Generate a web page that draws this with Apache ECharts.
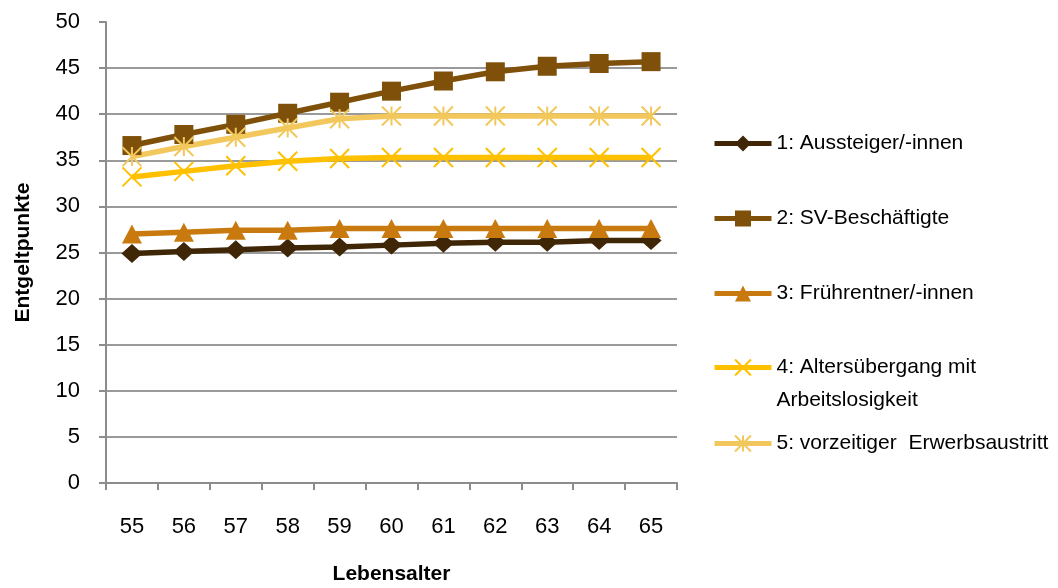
<!DOCTYPE html>
<html>
<head>
<meta charset="utf-8">
<script src="https://cdn.jsdelivr.net/npm/echarts@6/dist/echarts.min.js"></script>
<style>
  html, body { margin: 0; padding: 0; background: #fff; }
  #chart { width: 1058px; height: 588px; }
</style>
</head>
<body>
<div id="chart"></div>
<script>
// Entgeltpunkte nach Lebensalter, fünf Gruppen
const ages = ['55', '56', '57', '58', '59', '60', '61', '62', '63', '64', '65'];
const seriesNames = [
  '1: Aussteiger/-innen',
  '2: SV-Beschäftigte',
  '3: Frührentner/-innen',
  '4: Altersübergang mit\nArbeitslosigkeit',
  '5: vorzeitiger  Erwerbsaustritt'
];
const aussteiger      = [24.9, 25.1, 25.3, 25.5, 25.6, 25.8, 26.0, 26.1, 26.1, 26.3, 26.3];
const svBeschaeftigte = [36.6, 37.8, 38.9, 40.1, 41.3, 42.5, 43.6, 44.6, 45.2, 45.5, 45.7];
const fruehrentner    = [27.0, 27.2, 27.4, 27.4, 27.6, 27.6, 27.6, 27.6, 27.6, 27.6, 27.6];
const altersuebergang = [33.2, 33.8, 34.4, 34.9, 35.2, 35.3, 35.3, 35.3, 35.3, 35.3, 35.3];
const vorzeitig       = [35.4, 36.5, 37.5, 38.5, 39.5, 39.8, 39.8, 39.8, 39.8, 39.8, 39.8];
const yTicks = { min: 0, max: 50, interval: 5 };

const colors = ['#3f2606', '#7f5009', '#c87a0e', '#ffc000', '#f2c85c'];
const sansFont = "'Liberation Sans', Arial, sans-serif";

const crossPath = 'path://M0,0L10,10M10,0L0,10';
const starPath = 'path://M0,0L10,10M10,0L0,10M5,0L5,10';

function lineSeries(name, data, color, symbol, size, strokeOnly) {
  return {
    name: name,
    type: 'line',
    data: data,
    symbol: symbol,
    symbolSize: size,
    showAllSymbol: true,
    lineStyle: { color: color, width: 5.5 },
    itemStyle: strokeOnly
      ? { color: color, borderColor: color, borderWidth: 2 }
      : { color: color, borderWidth: 0 },
    emphasis: { disabled: true },
    animation: false
  };
}

// one legend block per series so each entry sits at its own height
const legendTops = [128, 203, 278, 313, 428];
const legends = seriesNames.map((n, i) => ({
  data: [n],
  left: 707,
  top: legendTops[i],
  orient: 'vertical',
  itemWidth: 57,
  itemHeight: 20,
  selectedMode: false,
  lineStyle: { width: 5 },
  // the two-line entry gets a blank leading line so its first line stays level with the icon
  formatter: i === 3 ? function (name) { return '\n' + name; } : '{name}',
  textStyle: i === 3
    ? { fontFamily: sansFont, fontSize: 21, color: '#000', lineHeight: 33 }
    : { fontFamily: sansFont, fontSize: 21, color: '#000' }
}));

const chart = echarts.init(document.getElementById('chart'), null, { renderer: 'canvas' });
chart.setOption({
  backgroundColor: '#fff',
  animation: false,
  grid: { left: 106, right: 381, top: 22, bottom: 105, outerBoundsMode: 'none', containLabel: false },
  legend: legends,
  xAxis: {
    type: 'category',
    data: ages,
    boundaryGap: true,
    name: 'Lebensalter',
    nameLocation: 'middle',
    nameGap: 81,
    nameTextStyle: { fontFamily: sansFont, fontSize: 21, fontWeight: 'bold', color: '#000' },
    axisLine: { lineStyle: { color: '#8c8c8c', width: 2 } },
    axisTick: { show: true, length: 7, lineStyle: { color: '#8c8c8c', width: 2 } },
    axisLabel: { fontFamily: sansFont, fontSize: 22, color: '#000', margin: 33 },
    splitLine: { show: false }
  },
  yAxis: {
    type: 'value',
    min: yTicks.min,
    max: yTicks.max,
    interval: yTicks.interval,
    name: 'Entgeltpunkte',
    nameLocation: 'middle',
    nameGap: 72,
    nameRotate: 90,
    nameTextStyle: { fontFamily: sansFont, fontSize: 21, fontWeight: 'bold', color: '#000' },
    axisLine: { show: true, lineStyle: { color: '#8c8c8c', width: 2 } },
    axisTick: { show: true, length: 7, lineStyle: { color: '#8c8c8c', width: 2 } },
    axisLabel: { fontFamily: sansFont, fontSize: 22, color: '#000', margin: 26 },
    splitLine: { show: true, showMaxLine: false, lineStyle: { color: '#9a9a9a', width: 2 } }
  },
  series: [
    lineSeries(seriesNames[0], aussteiger, colors[0], 'diamond', [21, 19], false),
    lineSeries(seriesNames[1], svBeschaeftigte, colors[1], 'rect', 19, false),
    lineSeries(seriesNames[2], fruehrentner, colors[2], 'triangle', [20, 19], false),
    lineSeries(seriesNames[3], altersuebergang, colors[3], crossPath, 19, true),
    lineSeries(seriesNames[4], vorzeitig, colors[4], starPath, 19, true)
  ]
});
</script>
</body>
</html>
